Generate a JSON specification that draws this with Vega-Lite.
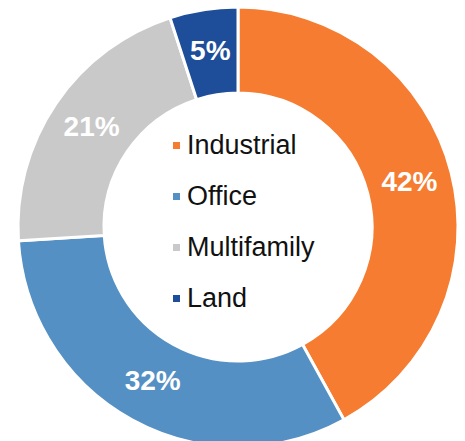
{
  "$schema": "https://vega.github.io/schema/vega-lite/v6.json",
  "width": 465,
  "height": 441,
  "autosize": {"type": "fit", "contains": "padding"},
  "padding": {"left": 11, "top": 13, "right": 0, "bottom": 0},
  "background": "white",
  "config": {"view": {"stroke": null}},
  "data": {
    "values": [
      {"sector": "Industrial", "share": 42, "label": "42%", "rank": 1},
      {"sector": "Office", "share": 32, "label": "32%", "rank": 2},
      {"sector": "Multifamily", "share": 21, "label": "21%", "rank": 3},
      {"sector": "Land", "share": 5, "label": "5%", "rank": 4}
    ]
  },
  "encoding": {
    "theta": {"field": "share", "type": "quantitative", "stack": true},
    "order": {"field": "rank", "type": "quantitative"}
  },
  "layer": [
    {
      "mark": {"type": "arc", "innerRadius": 134, "outerRadius": 220, "stroke": "white", "strokeWidth": 3},
      "encoding": {
        "color": {
          "field": "sector",
          "type": "nominal",
          "scale": {
            "domain": ["Industrial", "Office", "Multifamily", "Land"],
            "range": ["#F57C30", "#5490C3", "#C9C9C9", "#1E4D99"]
          },
          "legend": {
            "title": null,
            "orient": "none",
            "legendX": 152,
            "legendY": 113,
            "symbolType": "square",
            "symbolSize": 49,
            "symbolStrokeWidth": 0,
            "labelFont": "Liberation Sans",
            "labelFontSize": 27,
            "labelColor": "#111111",
            "labelOffset": -3,
            "rowPadding": 23,
            "labelLimit": 300
          }
        }
      }
    },
    {
      "mark": {"type": "text", "radius": 177, "font": "Liberation Sans", "fontWeight": "bold", "fontSize": 28, "fill": "white", "align": "center", "baseline": "middle"},
      "encoding": {
        "text": {"field": "label", "type": "nominal"}
      }
    }
  ]
}
